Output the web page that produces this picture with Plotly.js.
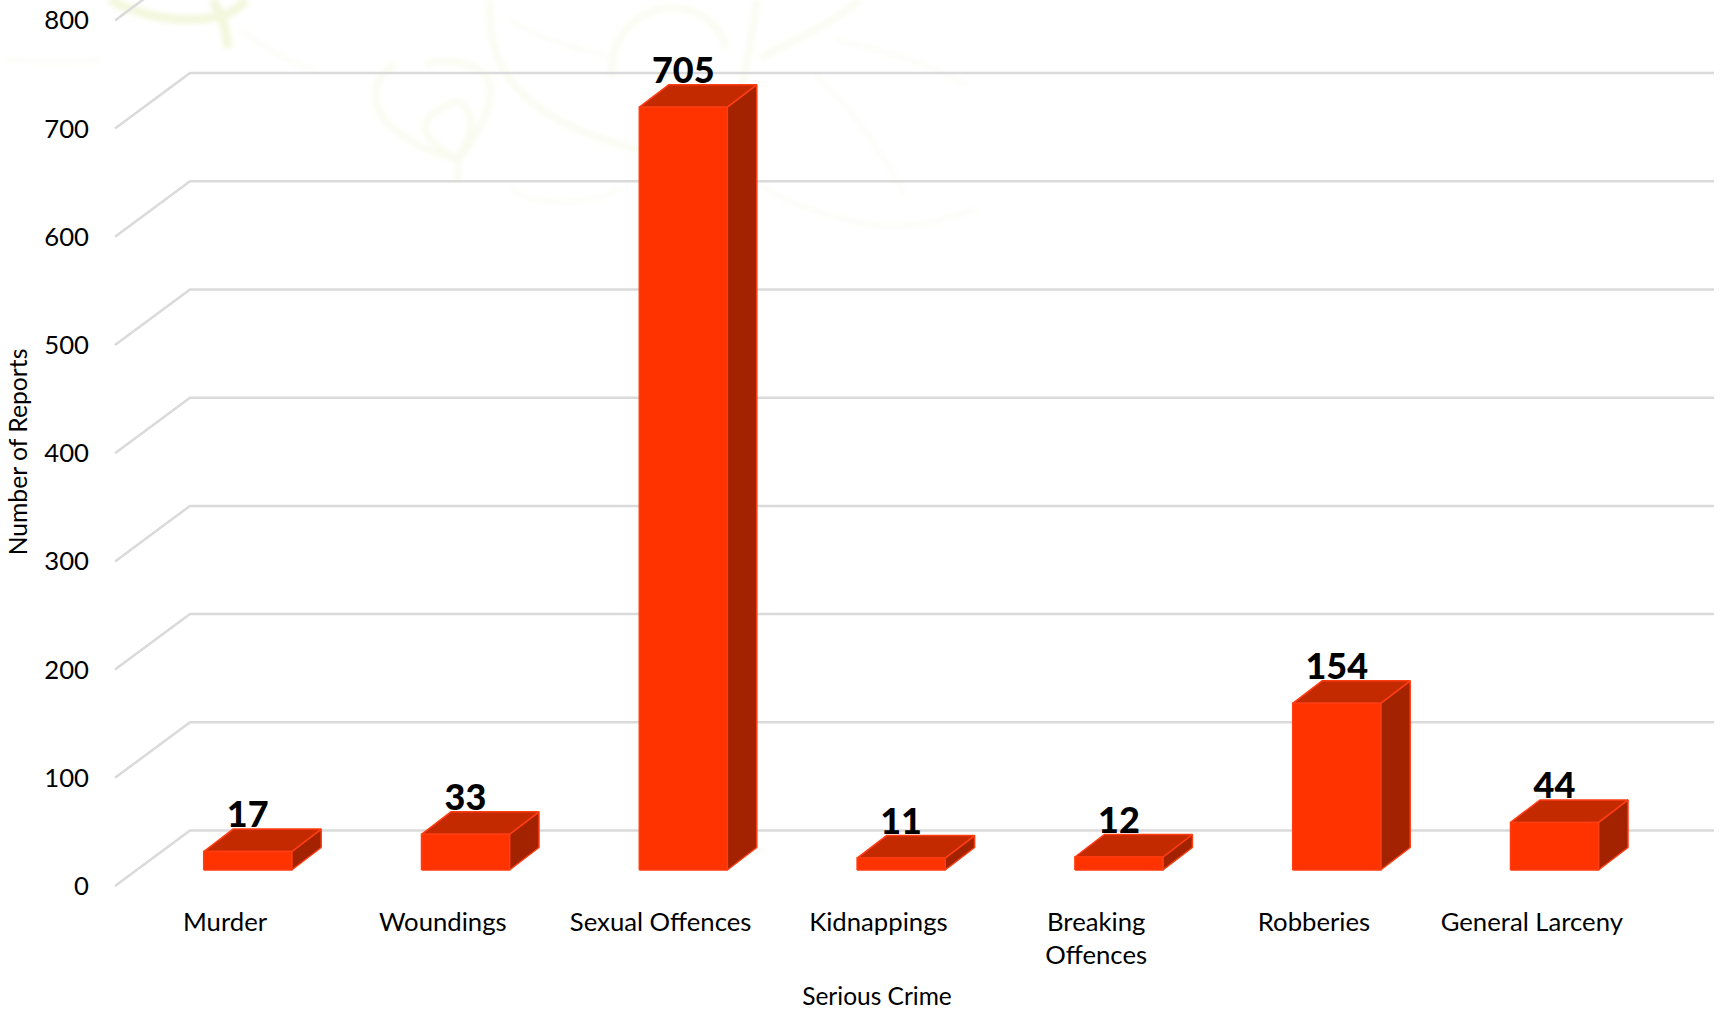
<!DOCTYPE html>
<html>
<head>
<meta charset="utf-8">
<script src="https://cdn.plot.ly/plotly-3.0.1.min.js"></script>
<style>html,body{margin:0;padding:0;background:#fff}#chart{width:1721px;height:1010px}</style>
</head>
<body>
<div id="chart"></div>
<script>
const categories = ['Murder', 'Woundings', 'Sexual Offences', 'Kidnappings', 'Breaking<br>Offences', 'Robberies', 'General Larceny'];
const reports = [17, 33, 705, 11, 12, 154, 44];
const yTicks = [0, 100, 200, 300, 400, 500, 600, 700, 800];

// Oblique projection of the 3D chart, in axis units
const unitX = 217.8, unitY = 1.082;
const plotLeft = 40, plotRight = 1714, plotBottom = 904, zeroX = 225, zeroY = 886;
const xRange = [(plotLeft - zeroX) / unitX, (plotRight - zeroX) / unitX];
const yRange = [(zeroY - plotBottom) / unitY, zeroY / unitY];
const gridLeft = (115 - zeroX) / unitX;
const wallDX = 75 / unitX, wallDY = 55.5 / unitY;
const barOffset = 22.7 / unitX, barHalf = 44 / unitX, barBase = 14.8;
const depthDX = 29.5 / unitX, depthDY = 22.5 / unitY;
const labelGap = 10;

function faces(build) {
  const xs = [], ys = [];
  reports.forEach((v, i) => {
    build(i + barOffset - barHalf, i + barOffset + barHalf, barBase, barBase + v).forEach(p => { xs.push(p[0]); ys.push(p[1]); });
    xs.push(null); ys.push(null);
  });
  return {x: xs, y: ys};
}
const front = faces((l, r, b, t) => [[l, b], [r, b], [r, t], [l, t], [l, b]]);
const top_ = faces((l, r, b, t) => [[l, t], [r, t], [r + depthDX, t + depthDY], [l + depthDX, t + depthDY], [l, t]]);
const side = faces((l, r, b, t) => [[r, b], [r + depthDX, b + depthDY], [r + depthDX, t + depthDY], [r, t], [r, b]]);

const gridX = [], gridY = [];
yTicks.forEach(v => {
  gridX.push(gridLeft, gridLeft + wallDX, xRange[1], null);
  gridY.push(v, v + wallDY, v + wallDY, null);
});

const edge = '#ff3d12';
function face(d, color) {
  return {x: d.x, y: d.y, mode: 'lines', fill: 'toself', fillcolor: color,
    line: {color: edge, width: 1.5}, hoverinfo: 'skip', showlegend: false};
}
const traces = [
  {x: gridX, y: gridY, mode: 'lines', line: {color: '#dadada', width: 2.5}, hoverinfo: 'skip', showlegend: false},
  face(side, '#a32300'),
  face(top_, '#c32a00'),
  face(front, '#ff3300'),
  {x: reports.map((v, i) => i + barOffset), y: reports.map(v => barBase + v + depthDY + labelGap),
   text: reports.map(String), mode: 'text', textposition: 'middle center',
   textfont: {family: 'Lato, Carlito, sans-serif', size: 36, color: '#000', weight: 900},
   hoverinfo: 'skip', showlegend: false}
];

// Faint decorative watermark behind the chart
const wmStrong = ['M110 0 C140 15 180 26 225 15 C235 10 242 5 246 0', 'M212 0 C222 12 226 28 228 48'];
const wmSoft = [
  'M395 65 C368 78 370 112 395 130 C415 145 430 152 458 160 C478 135 498 100 487 78 C475 60 440 58 425 65',
  'M458 100 C440 108 420 118 426 132 C432 145 445 152 458 158 C470 135 480 118 458 100',
  'M458 158 L458 182', 'M490 0 C486 50 505 85 545 112 C590 140 640 150 672 158',
  'M612 78 C608 35 640 8 672 8 C700 8 720 25 726 48', 'M757 0 C752 30 750 55 738 100',
  'M760 58 C790 42 825 28 860 0'
];
const wmThin = [
  'M240 30 C262 45 285 62 318 72', 'M510 20 C540 38 570 48 605 55', 'M835 40 C875 48 925 62 968 85',
  'M815 75 C850 105 880 150 905 195 M760 185 C790 205 840 222 885 226 C920 228 950 218 978 208',
  'M510 190 C540 205 580 208 625 188', 'M5 60 C40 62 70 62 100 60'
];
const p = (arr, col, w) => arr.map(d => `<path d="${d}" fill="none" stroke="${col}" stroke-width="${w}"/>`).join('');
const svg = `<svg xmlns="http://www.w3.org/2000/svg" width="1721" height="1010" viewBox="0 0 1721 1010"><filter id="b" x="-5%" y="-5%" width="110%" height="110%"><feGaussianBlur stdDeviation="2.6"/></filter><g filter="url(#b)">${p(wmStrong, '#f3f7dc', 9)}${p(wmSoft, '#f9fbef', 6)}${p(wmThin, '#fbfcf6', 4)}</g></svg>`;

const plotW = plotRight - plotLeft;
const layout = {
  width: 1721, height: 1010,
  margin: {l: plotLeft, r: 1721 - plotRight, t: 0, b: 1010 - plotBottom},
  paper_bgcolor: '#fff', plot_bgcolor: 'rgba(0,0,0,0)',
  showlegend: false,
  font: {family: 'Lato, Carlito, sans-serif', color: '#000'},
  images: [{source: 'data:image/svg+xml;charset=utf-8,' + encodeURIComponent(svg), xref: 'paper', yref: 'paper',
    x: -plotLeft / plotW, y: 1, sizex: 1721 / plotW, sizey: 1010 / plotBottom, xanchor: 'left', yanchor: 'top', sizing: 'stretch', layer: 'below'}],
  xaxis: {
    range: xRange, tickmode: 'array', tickvals: categories.map((c, i) => i), ticktext: categories,
    showgrid: false, zeroline: false, showline: false, ticks: '', ticklabelstandoff: 0,
    tickangle: 0, tickfont: {size: 25.7},
    title: {text: 'Serious Crime', font: {size: 24.5}, standoff: 23}
  },
  yaxis: {
    range: yRange, tickmode: 'array', tickvals: yTicks, ticktext: yTicks.map(String),
    anchor: 'free', position: (115 - plotLeft) / plotW,
    showgrid: false, zeroline: false, showline: false, ticks: '', ticklabelstandoff: 26,
    tickfont: {size: 25.7},
    title: {text: 'Number of Reports', font: {size: 24.7}, standoff: 8}
  }
};
Plotly.newPlot('chart', traces, layout, {displayModeBar: false, responsive: false});
</script>
</body>
</html>
